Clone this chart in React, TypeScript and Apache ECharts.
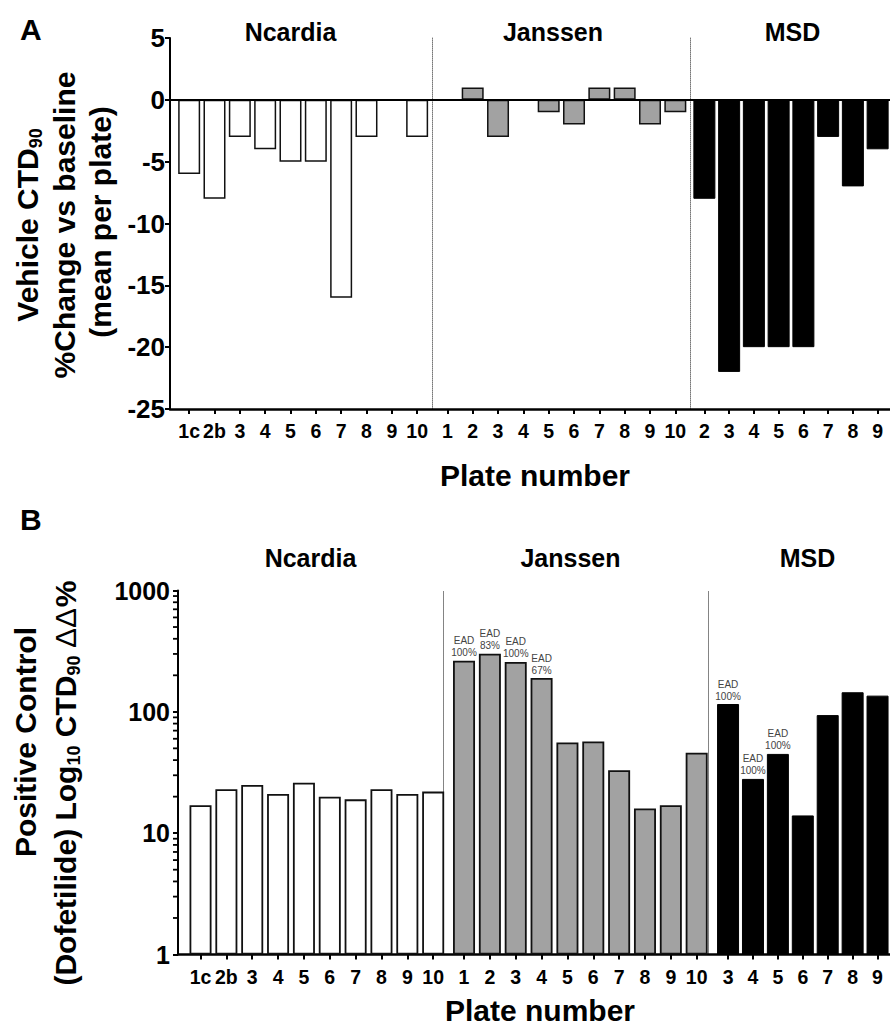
import { useEffect, useRef } from 'react';
import * as echarts from 'echarts';

// ---------- data ----------
const ncardiaPlates = ['1c', '2b', '3', '4', '5', '6', '7', '8', '9', '10'];
const janssenPlates = ['1', '2', '3', '4', '5', '6', '7', '8', '9', '10'];
const msdPlatesA = ['2', '3', '4', '5', '6', '7', '8', '9'];
const msdPlatesB = ['3', '4', '5', '6', '7', '8', '9'];

// Panel A: vehicle CTD90 % change vs baseline
const vehicleNcardia = [-6, -8, -3, -4, -5, -5, -16, -3, 0, -3];
const vehicleJanssen = [0, 1, -3, 0, -1, -2, 1, 1, -2, -1];
const vehicleMsd = [-8, -22, -20, -20, -20, -3, -7, -4];

// Panel B: positive control (dofetilide) CTD90 ΔΔ%
const dofNcardia = [17, 23, 25, 21, 26, 20, 19, 23, 21, 22];
const dofJanssen = [264, 301, 258, 190, 56, 57, 33, 16, 17, 46];
const dofMsd = [116, 28, 45, 14, 94, 145, 136];

const eadJanssen = ['100%', '83%', '100%', '67%', '', '', '', '', '', ''];
const eadMsd = ['100%', '100%', '100%', '', '', '', ''];

const minorTicksB = [2, 3, 4, 5, 6, 7, 8, 9, 20, 30, 40, 50, 60, 70, 80, 90, 200, 300, 400, 500, 600, 700, 800, 900];

const groupTitles = ['Ncardia', 'Janssen', 'MSD'];

// ---------- styling ----------
const FONT = '"Liberation Sans", Arial, Helvetica, sans-serif';
const WHITE = '#ffffff';
const GREY = '#a2a2a2';
const BLACK = '#000000';

export default function App() {
  const ref = useRef<HTMLDivElement>(null);

  useEffect(() => {
    if (!ref.current) return;
    const chart = echarts.init(ref.current, null, { renderer: 'svg' });

    const topA = 38, hA = 371;
    const topB = 590.5, hB = 364;

    const grid = [
      { left: 170, right: -6, top: topA, height: hA },
      { left: 176.5, width: 253.3, top: topA, height: hA },
      { left: 434.7, width: 253.3, top: topA, height: hA },
      { left: 692, width: 202.4, top: topA, height: hA },
      { left: 178, right: -8, top: topB, height: hB },
      { left: 187.6, width: 258.5, top: topB, height: hB },
      { left: 451.1, width: 258.5, top: topB, height: hB },
      { left: 715.6, width: 181, top: topB, height: hB },
    ];

    const overlayX = (gridIndex: number) => ({
      type: 'value', gridIndex, min: 0, max: 1, position: 'bottom',
      axisLine: { show: true, onZero: false, lineStyle: { color: BLACK, width: 2.5 } },
      axisTick: { show: false }, axisLabel: { show: false }, splitLine: { show: false },
    });
    const catX = (gridIndex: number, data: string[]) => ({
      type: 'category', gridIndex, data, position: 'bottom',
      axisLine: { show: false, onZero: false },
      axisTick: { show: true, alignWithLabel: true, length: 5, lineStyle: { color: BLACK, width: 2 } },
      axisLabel: { show: true, interval: 0, margin: 12, color: BLACK, fontFamily: FONT, fontWeight: 'bold', fontSize: 19.5 },
      splitLine: { show: false },
    });

    const xAxis = [
      overlayX(0), catX(1, ncardiaPlates), catX(2, janssenPlates), catX(3, msdPlatesA),
      overlayX(4), catX(5, ncardiaPlates), catX(6, janssenPlates), catX(7, msdPlatesB),
    ];

    const linA = { type: 'value', min: -25, max: 5, interval: 5 };
    const logB = { type: 'log', logBase: 10, min: 1, max: 1000, splitNumber: 3 };
    const mainY = (gridIndex: number, scale: any, fontSize: number, margin: number) => ({
      ...scale, gridIndex, position: 'left',
      axisLine: { show: true, onZero: false, lineStyle: { color: BLACK, width: 2 } },
      axisTick: { show: true, length: 5, lineStyle: { color: BLACK, width: 2 } },
      axisLabel: {
        margin, color: BLACK, fontFamily: FONT, fontWeight: 'bold', fontSize,
        formatter: (v: number) => String(v),
      },
      splitLine: { show: false },
    });
    const hiddenY = (gridIndex: number, scale: any) => ({ ...scale, gridIndex, show: false });
    const dividerY = (gridIndex: number, scale: any, offset: number) => ({
      ...scale, gridIndex, position: 'left', offset,
      axisLine: { show: true, onZero: false, lineStyle: { color: '#777', width: 1, type: 'dotted' } },
      axisTick: { show: false }, axisLabel: { show: false }, splitLine: { show: false },
    });

    const yAxis = [
      mainY(0, linA, 26, 5), hiddenY(1, linA), dividerY(2, linA, 2.7), dividerY(3, linA, 2),
      mainY(4, logB, 25, 8), hiddenY(5, logB), dividerY(6, logB, 8.1), dividerY(7, logB, 7.6),
    ];

    const bar = (idx: number, data: any[], color: string, borderColor: string, borderWidth: number) => ({
      type: 'bar', xAxisIndex: idx, yAxisIndex: idx, data, barWidth: 22,
      itemStyle: { color, borderColor, borderWidth },
    });

    const eadLabel = (vals: number[], ead: string[]) =>
      vals.map((v, i) =>
        ead[i]
          ? {
              value: v,
              label: {
                show: true, position: 'top', distance: 2, formatter: 'EAD\n' + ead[i],
                fontFamily: FONT, fontSize: 10, lineHeight: 12, color: '#444',
              },
            }
          : v
      );

    const series: any[] = [
      {
        type: 'line', xAxisIndex: 0, yAxisIndex: 0, data: [[0, -25]], symbol: 'none',
        lineStyle: { width: 0 },
        markLine: {
          silent: true, symbol: ['none', 'none'], label: { show: false },
          lineStyle: { color: BLACK, width: 2, type: 'solid' },
          data: [{ yAxis: 0 }],
        },
      },
      bar(1, vehicleNcardia, WHITE, '#111', 1.5),
      bar(2, vehicleJanssen, GREY, '#111', 1.5),
      bar(3, vehicleMsd, BLACK, BLACK, 1),
      bar(5, dofNcardia, WHITE, '#111', 1.8),
      bar(6, eadLabel(dofJanssen, eadJanssen), GREY, '#111', 1.8),
      bar(7, eadLabel(dofMsd, eadMsd), BLACK, BLACK, 1),
      {
        type: 'custom', xAxisIndex: 4, yAxisIndex: 4, clip: false, silent: true, z: 10,
        data: minorTicksB.map((v) => [0, v]),
        renderItem: (_params: any, api: any) => {
          const p = api.coord([0, api.value(1)]);
          return {
            type: 'line',
            shape: { x1: p[0] - 5, y1: p[1], x2: p[0] - 0.5, y2: p[1] },
            style: { stroke: BLACK, lineWidth: 1.8 },
          };
        },
      },
    ];

    const txt = (text: string, x: number, y: number, size: number, align = 'center', rotation = 0, rich?: any) => ({
      type: 'text', x, y, rotation, silent: true,
      style: {
        text, fill: BLACK, fontFamily: FONT, fontWeight: 'bold', fontSize: size,
        align, verticalAlign: 'middle', rich,
      },
    });

    const NAME = 30;
    const rich = {
      b: { fontFamily: FONT, fontWeight: 'bold', fontSize: NAME, lineHeight: 36, fill: BLACK, color: BLACK },
      s: { fontFamily: FONT, fontWeight: 'bold', fontSize: 18, lineHeight: 24, verticalAlign: 'bottom', fill: BLACK, color: BLACK },
      n: { fontFamily: FONT, fontWeight: 'normal', fontSize: NAME, lineHeight: 36, fill: BLACK, color: BLACK },
    };

    const graphic = [
      txt('A', 20, 29, 30, 'left'),
      txt(groupTitles[0], 290.5, 32, 25),
      txt(groupTitles[1], 553, 32, 25),
      txt(groupTitles[2], 792.5, 32, 25),
      txt('Plate number', 535, 475, 30),
      txt('{b|Vehicle CTD}{s|90}', 27, 225, NAME, 'center', Math.PI / 2, rich),
      txt('{b|%Change vs baseline}', 64, 225, NAME, 'center', Math.PI / 2, rich),
      txt('{b|(mean per plate)}', 100, 222, NAME, 'center', Math.PI / 2, rich),
      txt('B', 20, 519, 30, 'left'),
      txt(groupTitles[0], 310.5, 558, 25),
      txt(groupTitles[1], 570.5, 558, 25),
      txt(groupTitles[2], 807.5, 558, 25),
      txt('Plate number', 540, 1010, 30),
      txt('{b|Positive Control}', 25, 742, NAME, 'center', Math.PI / 2, rich),
      txt('{b|(Dofetilide) Log}{s|10}{b| CTD}{s|90}{n| ΔΔ}{b|%}', 65, 783, NAME, 'center', Math.PI / 2, rich),
    ];

    chart.setOption({
      animation: false,
      backgroundColor: '#ffffff',
      grid, xAxis, yAxis, series, graphic,
    } as any);

    return () => chart.dispose();
  }, []);

  return (
    <div
      ref={ref}
      style={{ position: 'fixed', left: 0, top: 0, width: 890, height: 1029, background: '#fff' }}
    />
  );
}
